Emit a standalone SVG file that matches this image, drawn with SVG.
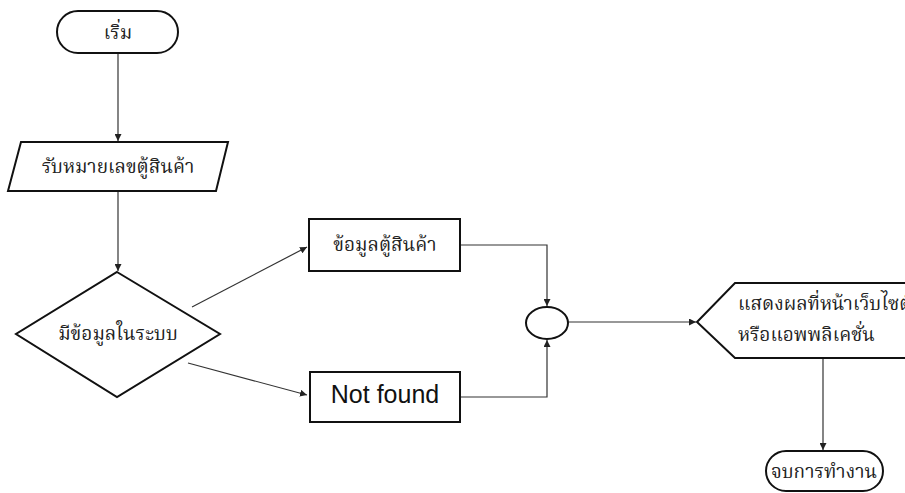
<svg xmlns="http://www.w3.org/2000/svg" width="905" height="493" viewBox="0 0 905 493">
  <defs>
    <marker id="ah" viewBox="0 0 10 10" refX="10" refY="5" markerWidth="7" markerHeight="7" orient="auto" markerUnits="userSpaceOnUse">
      <path d="M0,0 L10,5 L0,10 z" fill="#222"/>
    </marker>
    <style>
      .shape { fill: #fff; stroke: #111; stroke-width: 2; }
      .conn { fill: none; stroke: #333; stroke-width: 1.2; }
      .th { font-family: "Norasi", "Noto Serif Thai", "Noto Sans Thai", "Tlwg Typo", "Garuda", "Loma", "DejaVu Serif", serif; font-size: 19px; fill: #222; }
      .en { font-family: "Liberation Sans", "Open Sans", sans-serif; font-size: 25px; fill: #111; }
    </style>
  </defs>
  <rect width="905" height="493" fill="#fff"/>
  <g id="connectors">
    <line class="conn" x1="118" y1="53" x2="118" y2="141" marker-end="url(#ah)"/>
    <line class="conn" x1="118" y1="191" x2="118" y2="271" marker-end="url(#ah)"/>
    <line class="conn" x1="192" y1="307" x2="307" y2="247" marker-end="url(#ah)"/>
    <line class="conn" x1="188" y1="363" x2="307" y2="395" marker-end="url(#ah)"/>
    <polyline class="conn" points="460,245 547,245 547,306" marker-end="url(#ah)"/>
    <polyline class="conn" points="460,397 547,397 547,340" marker-end="url(#ah)"/>
    <line class="conn" x1="568" y1="322" x2="696" y2="322" marker-end="url(#ah)"/>
    <line class="conn" x1="823" y1="358" x2="823" y2="450" marker-end="url(#ah)"/>
  </g>
  <g id="start">
    <rect class="shape" x="57" y="11" width="121" height="42" rx="21"/>
    <text class="th" x="118" y="39" text-anchor="middle">เริ่ม</text>
  </g>
  <g id="input">
    <polygon class="shape" points="21,142 228,142 216,191 8,191"/>
    <text class="th" x="118" y="173" text-anchor="middle">รับหมายเลขตู้สินค้า</text>
  </g>
  <g id="decision">
    <polygon class="shape" points="117,272 220,334 117,397 16,334"/>
    <text class="th" x="118" y="340" text-anchor="middle">มีข้อมูลในระบบ</text>
  </g>
  <g id="found">
    <rect class="shape" x="309" y="219" width="151" height="52"/>
    <text class="th" x="385" y="251" text-anchor="middle">ข้อมูลตู้สินค้า</text>
  </g>
  <g id="notfound">
    <rect class="shape" x="310" y="372" width="150" height="50"/>
    <text class="en" x="385" y="403" text-anchor="middle">Not found</text>
  </g>
  <g id="merge">
    <ellipse class="shape" cx="547" cy="323" rx="21" ry="16"/>
  </g>
  <g id="display">
    <polygon class="shape" points="697,322 735,283 910,283 910,358 735,358"/>
    <text class="th" x="738" y="310">แสดงผลที่หน้าเว็บไซต์</text>
    <text class="th" x="738" y="341">หรือแอพพลิเคชั่น</text>
  </g>
  <g id="end">
    <rect class="shape" x="766" y="451" width="117" height="40" rx="20"/>
    <text class="th" x="824" y="478" text-anchor="middle">จบการทำงาน</text>
  </g>
</svg>
